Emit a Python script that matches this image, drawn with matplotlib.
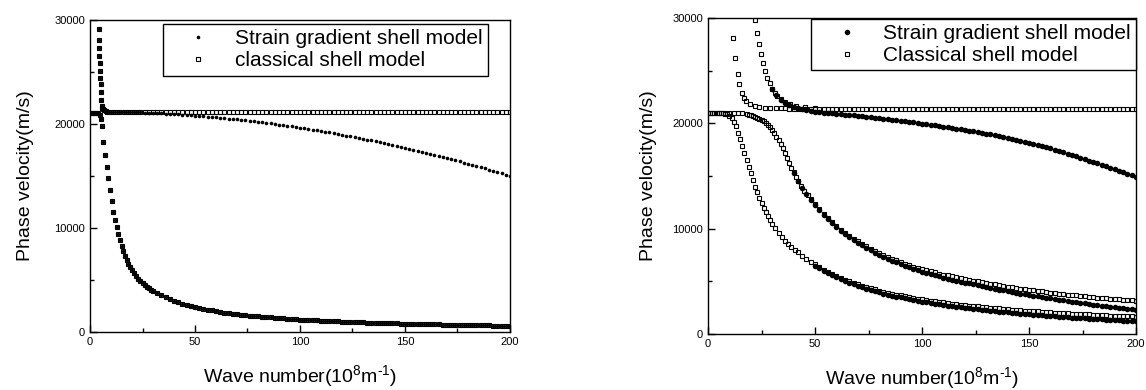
import matplotlib
matplotlib.use("Agg")
import matplotlib.pyplot as plt
from matplotlib.ticker import MultipleLocator

plt.rcParams['font.family'] = ['Liberation Sans', 'DejaVu Sans']
plt.rcParams['mathtext.fontset'] = 'custom'
plt.rcParams['mathtext.rm'] = 'Liberation Sans'
plt.rcParams['mathtext.it'] = 'Liberation Sans:italic'

############# LEFT PANEL DATA #############

# steep branch near k ~ 4-7 (both models on top of each other)
k_left_steep = [4.12, 4.27, 4.40, 4.52, 4.64, 4.78, 4.92, 5.04, 5.21, 5.38, 5.55, 5.8, 6.2, 6.8, 7.4]
v_left_steep = [29100, 28100, 27300, 26550, 25850, 25100, 24400, 23800, 23030, 22300, 21760, 21550, 21400, 21300, 21250]

# upper branch, k = 8 ... 200
k_left = [8, 10, 12, 14, 16, 18, 20, 22, 24, 26, 28, 30, 32, 34, 36, 38, 40, 42, 44, 46,
          48, 50, 52, 54, 56, 58, 60, 62, 64, 66, 68, 70, 72, 74, 76, 78, 80, 82, 84, 86,
          88, 90, 92, 94, 96, 98, 100, 102, 104, 106, 108, 110, 112, 114, 116, 118, 120, 122, 124, 126,
          128, 130, 132, 134, 136, 138, 140, 142, 144, 146, 148, 150, 152, 154, 156, 158, 160, 162, 164, 166,
          168, 170, 172, 174, 176, 178, 180, 182, 184, 186, 188, 190, 192, 194, 196, 198, 200]
v_left_sg = [21190, 21185, 21178, 21170, 21160, 21150, 21138, 21125, 21111, 21095,
             21078, 21060, 21041, 21021, 20999, 20976, 20952, 20927, 20900, 20872,
             20843, 20812, 20781, 20748, 20714, 20679, 20642, 20604, 20565, 20525,
             20483, 20440, 20396, 20351, 20305, 20257, 20208, 20158, 20106, 20054,
             20000, 19944, 19888, 19830, 19772, 19711, 19650, 19587, 19524, 19458,
             19392, 19324, 19256, 19186, 19114, 19042, 18968, 18893, 18817, 18739,
             18660, 18580, 18499, 18417, 18333, 18248, 18162, 18075, 17986, 17896,
             17805, 17712, 17619, 17524, 17428, 17331, 17232, 17132, 17031, 16929,
             16825, 16720, 16614, 16507, 16399, 16289, 16178, 16066, 15952, 15838,
             15722, 15604, 15486, 15366, 15246, 15123, 15000]
v_left_cl = [21200, 21200, 21200, 21200, 21200, 21200, 21200, 21200, 21200, 21200,
             21200, 21200, 21200, 21200, 21200, 21200, 21200, 21200, 21200, 21200,
             21200, 21200, 21200, 21200, 21200, 21200, 21200, 21200, 21200, 21200,
             21200, 21200, 21200, 21200, 21200, 21200, 21200, 21200, 21200, 21200,
             21200, 21200, 21200, 21200, 21200, 21200, 21200, 21200, 21200, 21200,
             21200, 21200, 21200, 21200, 21200, 21200, 21200, 21200, 21200, 21200,
             21200, 21200, 21200, 21200, 21200, 21200, 21200, 21200, 21200, 21200,
             21200, 21200, 21200, 21200, 21200, 21200, 21200, 21200, 21200, 21200,
             21200, 21200, 21200, 21200, 21200, 21200, 21200, 21200, 21200, 21200,
             21200, 21200, 21200, 21200, 21200, 21200, 21200]

# lower branch (both models)
k_left_low = [0, 0.8, 1.6, 2.4, 3.2, 4.0, 4.6, 5.1, 5.6, 6.3, 7.1, 7.9, 8.7, 9.5, 10.3, 11.1,
              11.9, 12.7, 13.5, 14.3, 15.1, 15.9, 16.7, 17.5, 18.3, 19.1, 20,
              21, 22, 23, 24, 25, 26, 27, 28, 29, 30,
              32, 34, 36, 38, 40, 42, 44, 46, 48, 50, 52, 54, 56, 58, 60, 62, 64, 66, 68, 70,
              72, 74, 76, 78, 80, 82, 84, 86, 88, 90, 92, 94, 96, 98, 100, 102, 104, 106, 108, 110,
              112, 114, 116, 118, 120, 122, 124, 126, 128, 130, 132, 134, 136, 138, 140, 142, 144, 146, 148, 150,
              152, 154, 156, 158, 160, 162, 164, 166, 168, 170, 172, 174, 176, 178, 180, 182, 184, 186, 188, 190,
              192, 194, 196, 198, 200]
v_left_low = [21100, 21100, 21100, 21090, 21070, 21020, 20900, 20500, 19800, 18300, 17000, 15900,
              14800, 13650, 12550, 11550, 10750, 10050, 9400, 8800, 8250, 7750, 7300, 6900, 6550, 6220, 5920,
              5630, 5370, 5130, 4920, 4720, 4540, 4370, 4220, 4070, 3940,
              3750, 3530, 3333, 3158, 3000, 2857, 2727, 2609, 2500, 2400,
              2308, 2222, 2143, 2069, 2000, 1935, 1875, 1818, 1765, 1714,
              1667, 1622, 1579, 1538, 1500, 1463, 1429, 1395, 1364, 1333,
              1304, 1277, 1250, 1224, 1200, 1176, 1154, 1132, 1111, 1091,
              1071, 1053, 1034, 1017, 1000, 984, 968, 952, 938, 923,
              909, 896, 882, 870, 857, 845, 833, 822, 811, 800,
              789, 779, 769, 759, 750, 741, 732, 723, 714, 706,
              698, 690, 682, 674, 667, 659, 652, 645, 638, 632,
              625, 619, 612, 606, 600]

############# RIGHT PANEL DATA #############

# common k grid for the long tails, k = 50 ... 200
k_tail = [50, 52, 54, 56, 58, 60, 62, 64, 66, 68, 70, 72, 74, 76, 78, 80, 82, 84, 86, 88,
          90, 92, 94, 96, 98, 100, 102, 104, 106, 108, 110, 112, 114, 116, 118, 120, 122, 124, 126, 128,
          130, 132, 134, 136, 138, 140, 142, 144, 146, 148, 150, 152, 154, 156, 158, 160, 162, 164, 166, 168,
          170, 172, 174, 176, 178, 180, 182, 184, 186, 188, 190, 192, 194, 196, 198, 200]

# classical branch 1 (steep, then flat)
k_c1 = [11.7, 12.8, 13.9, 14.6, 15.7, 16.8, 17.9, 19.5, 21.8, 24, 26.5, 29, 32, 34, 36, 38, 40, 42, 44, 46, 48]
v_c1 = [28100, 26200, 24700, 23700, 22900, 22400, 22100, 21870, 21650, 21560, 21500, 21460,
        21430, 21420, 21410, 21400, 21400, 21400, 21400, 21400, 21400]
v_c1_tail = [21400, 21400, 21400, 21400, 21400, 21400, 21400, 21400, 21400, 21400,
             21400, 21400, 21400, 21400, 21400, 21400, 21400, 21400, 21400, 21400,
             21400, 21400, 21400, 21400, 21400, 21400, 21400, 21400, 21400, 21400,
             21400, 21400, 21400, 21400, 21400, 21400, 21400, 21400, 21400, 21400,
             21400, 21400, 21400, 21400, 21400, 21400, 21400, 21400, 21400, 21400,
             21400, 21400, 21400, 21400, 21400, 21400, 21400, 21400, 21400, 21400,
             21400, 21400, 21400, 21400, 21400, 21400, 21400, 21400, 21400, 21400,
             21400, 21400, 21400, 21400, 21400, 21400]

# classical branch 2 (steep, merges into flat)
k_c2 = [21.8, 22.7, 23.7, 24.8, 25.7, 26.8, 27.7, 28.8, 29.9, 31.2, 32.4, 34, 35.8, 38.2, 41.3, 45.2, 50]
v_c2 = [29800, 28600, 27500, 26600, 25700, 25000, 24300, 23800, 23300, 22900, 22600, 22300,
        22000, 21800, 21650, 21560, 21480]

# classical branch 3 (flat, then lowest decaying curve)
k_c3 = [0, 1, 2, 3, 4, 5, 6, 7, 8, 9, 10, 11, 12, 13, 14, 15, 16, 17, 18, 19, 20,
        21, 22, 23, 24, 25, 26, 27, 28, 29, 30, 31.5, 33, 34.5, 36, 37.5, 39, 40.5, 42, 44, 46, 48]
v_c3 = [21000, 21000, 21000, 21000, 21000, 21000, 20990, 20970, 20930, 20850, 20720, 20480,
        20150, 19720, 19100, 18500, 17850, 17200, 16550, 15900, 15250, 14600, 14000, 13450,
        12950, 12450, 12000, 11580, 11180, 10820, 10480, 10020, 9600, 9220, 8870, 8550,
        8260, 7990, 7740, 7450, 7150, 6870]
v_c3_tail = [6600, 6346, 6111, 5893, 5690, 5500, 5323, 5156, 5000, 4853,
             4714, 4583, 4459, 4342, 4231, 4125, 4024, 3929, 3837, 3750,
             3667, 3587, 3511, 3438, 3367, 3300, 3235, 3173, 3113, 3056,
             3000, 2946, 2895, 2845, 2797, 2750, 2705, 2661, 2619, 2578,
             2538, 2500, 2463, 2426, 2391, 2357, 2324, 2292, 2260, 2230,
             2200, 2171, 2143, 2115, 2089, 2063, 2037, 2012, 1988, 1964,
             1941, 1919, 1897, 1875, 1854, 1833, 1813, 1793, 1774, 1755,
             1737, 1719, 1701, 1684, 1667, 1650]

# classical branch 4 (flat, then middle decaying curve)
k_c4 = [0, 2, 4, 6, 8, 10, 12, 14, 16, 18, 19, 20, 21, 22, 23, 24, 25, 26, 27, 28, 29, 30,
        31, 32, 33, 34, 35, 36, 37, 38, 39, 40, 41, 42, 43.5, 45, 46.5, 48]
v_c4 = [21000, 21000, 21000, 21000, 21000, 21000, 20990, 20970, 20940, 20880, 20830, 20770,
        20710, 20640, 20550, 20450, 20330, 20200, 20040, 19850, 19620, 19350, 19050, 18750,
        18400, 18030, 17630, 17200, 16700, 16250, 15800, 15350, 14950, 14550, 14050, 13600,
        13180, 12810]
v_c4_tail = [12300, 11827, 11389, 10982, 10603, 10250, 9919, 9609, 9318, 9044,
             8786, 8542, 8311, 8092, 7885, 7688, 7500, 7321, 7151, 6989,
             6833, 6685, 6543, 6406, 6276, 6150, 6044, 5942, 5840, 5741,
             5645, 5554, 5465, 5379, 5297, 5217, 5139, 5065, 4988, 4914,
             4842, 4773, 4701, 4632, 4565, 4500, 4437, 4375, 4315, 4257,
             4200, 4145, 4091, 4038, 3987, 3938, 3889, 3841, 3795, 3750,
             3706, 3663, 3621, 3580, 3539, 3500, 3462, 3424, 3387, 3351,
             3316, 3281, 3247, 3214, 3182, 3150]

# strain gradient: upper branch
k_s1 = [30, 32, 34, 36, 38, 40, 42, 44, 46, 48]
v_s1 = [23250, 22650, 22250, 21950, 21720, 21550, 21420, 21320, 21240, 21170]
v_s1_tail = [21100, 21060, 21020, 20980, 20940, 20900, 20865, 20830, 20795, 20760,
             20720, 20678, 20635, 20590, 20545, 20500, 20452, 20403, 20353, 20302,
             20250, 20197, 20143, 20088, 20034, 19980, 19921, 19862, 19801, 19741,
             19680, 19617, 19553, 19489, 19425, 19360, 19293, 19225, 19157, 19089,
             19020, 18943, 18864, 18784, 18703, 18620, 18530, 18438, 18345, 18249,
             18150, 18048, 17944, 17838, 17730, 17620, 17500, 17378, 17254, 17128,
             17000, 16868, 16735, 16601, 16466, 16330, 16194, 16058, 15922, 15786,
             15650, 15512, 15372, 15232, 15091, 14950]

# strain gradient: lowest curve
v_s3_tail = [6488, 6230, 5991, 5768, 5561, 5366, 5185, 5013, 4853, 4701,
             4558, 4422, 4294, 4173, 4057, 3947, 3841, 3742, 3645, 3554,
             3466, 3382, 3301, 3224, 3148, 3077, 3008, 2941, 2877, 2815,
             2755, 2696, 2641, 2586, 2534, 2482, 2433, 2384, 2338, 2293,
             2248, 2206, 2164, 2123, 2083, 2045, 2007, 1971, 1934, 1900,
             1865, 1832, 1800, 1767, 1737, 1706, 1676, 1646, 1618, 1589,
             1562, 1535, 1509, 1483, 1457, 1432, 1407, 1383, 1359, 1336,
             1313, 1291, 1268, 1247, 1225, 1204]

# strain gradient: middle curve
k_s4 = [40, 42, 44, 46, 48]
v_s4 = [15300, 14495, 13841, 13257, 12742]
v_s4_tail = [12227, 11750, 11307, 10894, 10510, 10152, 9815, 9499, 9202, 8922,
             8658, 8408, 8170, 7944, 7730, 7526, 7331, 7145, 6967, 6798,
             6634, 6478, 6328, 6183, 6044, 5910, 5795, 5684, 5573, 5465,
             5360, 5260, 5161, 5065, 4973, 4883, 4795, 4711, 4623, 4539,
             4456, 4376, 4293, 4213, 4134, 4058, 3983, 3909, 3837, 3767,
             3697, 3630, 3563, 3498, 3434, 3372, 3309, 3248, 3188, 3130,
             3072, 3015, 2959, 2903, 2848, 2794, 2742, 2689, 2637, 2585,
             2535, 2485, 2435, 2386, 2338, 2290]

############# PLOTTING #############

fig = plt.figure(figsize=(11.46, 3.9), dpi=100)
ax1 = fig.add_axes([90 / 1146, 58 / 390, 420 / 1146, 312 / 390])
ax2 = fig.add_axes([708 / 1146, 56 / 390, 428 / 1146, 316 / 390])

# left
x_sg = k_left_steep + k_left + k_left_low
y_sg = v_left_steep + v_left_sg + v_left_low
x_cl = k_left_steep + k_left + k_left_low
y_cl = v_left_steep + v_left_cl + v_left_low
ax1.plot(x_sg, y_sg, 'o', ms=2.6, color='black', mec='black', mew=0, label='Strain gradient shell model')
ax1.plot(x_cl, y_cl, 's', ms=2.9, mfc='none', mec='black', mew=0.8, label='classical shell model')

# right
x_sg2 = k_s1 + k_tail + k_tail + k_s4 + k_tail
y_sg2 = v_s1 + v_s1_tail + v_s3_tail + v_s4 + v_s4_tail
x_cl2 = k_c1 + k_tail + k_c2 + k_c3 + k_tail + k_c4 + k_tail
y_cl2 = v_c1 + v_c1_tail + v_c2 + v_c3 + v_c3_tail + v_c4 + v_c4_tail
ax2.plot(x_sg2, y_sg2, 'o', ms=4.0, color='black', mec='black', mew=0, label='Strain gradient shell model')
ax2.plot(x_cl2, y_cl2, 's', ms=2.9, mfc='none', mec='black', mew=0.8, label='Classical shell model')

for ax in (ax1, ax2):
    ax.set_xlim(0, 200)
    ax.set_ylim(0, 30000)
    ax.xaxis.set_major_locator(MultipleLocator(50))
    ax.xaxis.set_minor_locator(MultipleLocator(25))
    ax.yaxis.set_major_locator(MultipleLocator(10000))
    ax.yaxis.set_minor_locator(MultipleLocator(5000))
    ax.tick_params(which='both', direction='in', top=False, right=False, labelsize=8, width=1)
    ax.tick_params(which='major', length=5)
    ax.tick_params(which='minor', length=3)
    for s in ax.spines.values():
        s.set_linewidth(1.0)
    ax.set_xlabel(r'Wave number(10$^8$m$^{\text{-}1}$)', fontsize=14, labelpad=12)

ax1.set_ylabel('Phase velocity(m/s)', fontsize=14, labelpad=15)
ax2.set_ylabel('Phase velocity(m/s)', fontsize=14, labelpad=11)

leg_kw = dict(fontsize=15, frameon=True, fancybox=False, edgecolor='black', framealpha=1,
              borderpad=0.25, handlelength=2.9, handletextpad=0.3, labelspacing=0.15, borderaxespad=0)
leg1 = ax1.legend(loc='upper left', bbox_to_anchor=(0.174, 0.987), **leg_kw)
leg2 = ax2.legend(loc='upper right', bbox_to_anchor=(1.0, 0.997), **leg_kw)
for leg in (leg1, leg2):
    leg.get_frame().set_linewidth(1.0)

fig.savefig('out.png', dpi=100)
